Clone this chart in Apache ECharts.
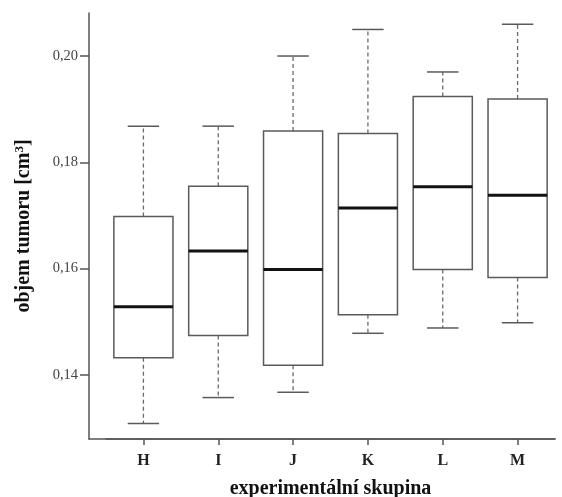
<!DOCTYPE html>
<html>
<head>
<meta charset="utf-8">
<script src="https://cdn.jsdelivr.net/npm/echarts@6/dist/echarts.min.js"></script>
<style>
  html, body { margin: 0; padding: 0; background: #fff; }
  #chart { width: 562px; height: 497px; }
</style>
</head>
<body>
<div id="chart"></div>
<script>
// Tumour volume per experimental group: five-number summaries
const groups   = ['H', 'I', 'J', 'K', 'L', 'M'];
const whiskLow = [0.1308, 0.1357, 0.1367, 0.1478, 0.1488, 0.1498];
const q1       = [0.1432, 0.1474, 0.1418, 0.1513, 0.1598, 0.1583];
const medians  = [0.1528, 0.1633, 0.1598, 0.1714, 0.1754, 0.1738];
const q3       = [0.1698, 0.1755, 0.1859, 0.1854, 0.1924, 0.1919];
const whiskHigh= [0.1868, 0.1868, 0.2000, 0.2050, 0.1970, 0.2060];
const yTicks   = [0.14, 0.16, 0.18, 0.20];

const yMin = 0.1279, yMax = 0.2081;
const serif = '"Liberation Serif", "DejaVu Serif", serif';

const boxData = groups.map((g, i) => [i, whiskLow[i], q1[i], medians[i], q3[i], whiskHigh[i]]);

function renderBox(params, api) {
  const i = api.value(0);
  const band = api.size([1, 0])[0];
  const half = band * 0.395;
  const capHalf = band * 0.21;
  const pLo  = api.coord([i, api.value(1)]);
  const pQ1  = api.coord([i, api.value(2)]);
  const pMed = api.coord([i, api.value(3)]);
  const pQ3  = api.coord([i, api.value(4)]);
  const pHi  = api.coord([i, api.value(5)]);
  const cx = pMed[0];
  const whiskStyle = { stroke: '#6a6a6a', lineWidth: 1.3, lineDash: [4, 3] };
  const capStyle = { stroke: '#5a5a5a', lineWidth: 1.5 };
  return {
    type: 'group',
    children: [
      { type: 'line', shape: { x1: cx, y1: pQ3[1], x2: cx, y2: pHi[1] }, style: whiskStyle },
      { type: 'line', shape: { x1: cx, y1: pQ1[1], x2: cx, y2: pLo[1] }, style: whiskStyle },
      { type: 'line', shape: { x1: cx - capHalf, y1: pHi[1], x2: cx + capHalf, y2: pHi[1] }, style: capStyle },
      { type: 'line', shape: { x1: cx - capHalf, y1: pLo[1], x2: cx + capHalf, y2: pLo[1] }, style: capStyle },
      { type: 'rect', shape: { x: cx - half, y: pQ3[1], width: half * 2, height: pQ1[1] - pQ3[1] },
        style: { fill: '#fff', stroke: '#5a5a5a', lineWidth: 1.5 } },
      { type: 'line', shape: { x1: cx - half, y1: pMed[1], x2: cx + half, y2: pMed[1] },
        style: { stroke: '#111', lineWidth: 3 } }
    ]
  };
}

const chart = echarts.init(document.getElementById('chart'), null, { renderer: 'canvas' });
chart.setOption({
  animation: false,
  backgroundColor: '#fff',
  grid: [
    { left: 89, right: 7, top: 13, bottom: 58, containLabel: false, outerBoundsMode: 'none' },
    { left: 106, right: 7, top: 13, bottom: 58, containLabel: false, outerBoundsMode: 'none' }
  ],
  xAxis: [
    {
      gridIndex: 0, type: 'value', min: 0, max: 1,
      axisLine: { show: true, lineStyle: { color: '#555', width: 1.5 } },
      axisTick: { show: false }, axisLabel: { show: false }, splitLine: { show: false }
    },
    {
      gridIndex: 1, type: 'category', data: groups,
      axisLine: { show: true, lineStyle: { color: '#555', width: 1.5 } },
      axisTick: { show: true, alignWithLabel: true, length: 6, lineStyle: { color: '#555', width: 1.5 } },
      axisLabel: { margin: 14, fontFamily: serif, fontSize: 16, fontWeight: 'bold', color: '#222' },
      name: 'experimentální skupina', nameLocation: 'middle', nameGap: 40,
      nameTextStyle: { fontFamily: serif, fontSize: 20, fontWeight: 'bold', color: '#111' },
      splitLine: { show: false }
    }
  ],
  yAxis: [
    {
      gridIndex: 0, type: 'value', min: yMin, max: yMax,
      axisLine: { show: true, lineStyle: { color: '#555', width: 1.5 } },
      axisTick: { show: true, length: 9, customValues: yTicks, lineStyle: { color: '#555', width: 1.5 } },
      axisLabel: {
        customValues: yTicks, margin: 11,
        fontFamily: serif, fontSize: 14.5, color: '#444',
        formatter: v => v.toFixed(2).replace('.', ',')
      },
      splitLine: { show: false },
      name: '{n|objem tumoru [cm}{s|3}{n|]}', nameLocation: 'middle', nameGap: 54,
      nameTextStyle: {
        rich: {
          n: { fontFamily: serif, fontSize: 20, fontWeight: 'bold', color: '#111' },
          s: { fontFamily: serif, fontSize: 13, fontWeight: 'bold', color: '#111', verticalAlign: 'top', padding: [0, 0, 9, 0] }
        }
      }
    },
    {
      gridIndex: 1, type: 'value', min: yMin, max: yMax, show: false,
      splitLine: { show: false }
    }
  ],
  series: [{
    type: 'custom',
    xAxisIndex: 1, yAxisIndex: 1,
    renderItem: renderBox,
    encode: { x: 0, y: [1, 2, 3, 4, 5] },
    data: boxData
  }]
});
</script>
</body>
</html>
